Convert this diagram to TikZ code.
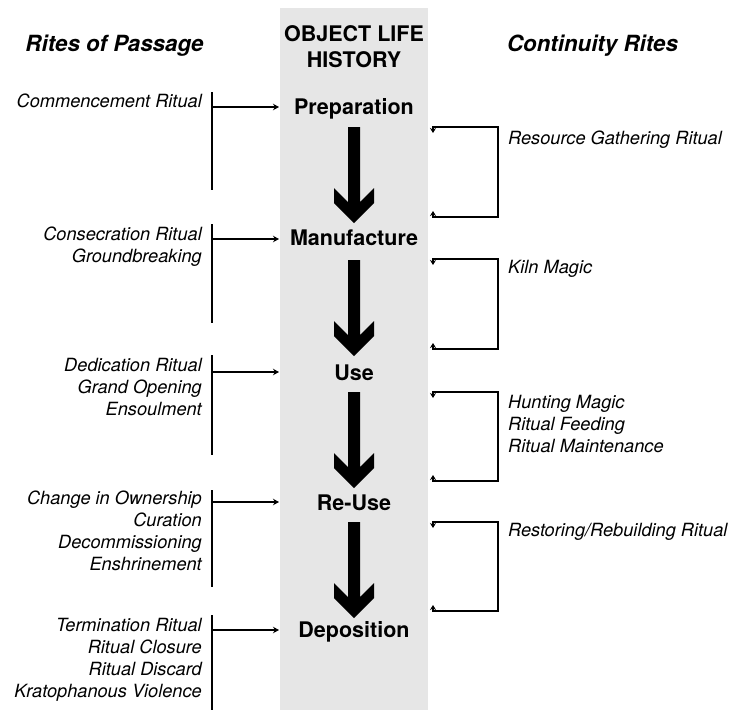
\documentclass[tikz,border=0pt]{standalone}
\usepackage{fontspec}
\setmainfont{TeX Gyre Heros}
\usetikzlibrary{arrows.meta}
\definecolor{band}{HTML}{E6E6E6}
\tikzset{
  titlefont/.style={font=\fontsize{22.3}{25}\selectfont\bfseries\itshape},
  stage/.style={font=\fontsize{21.5}{25}\selectfont\bfseries, inner sep=0pt, anchor=base},
  ltext/.style={font=\fontsize{18.2}{22}\selectfont\itshape, align=right, inner sep=0pt, anchor=north east},
  rtext/.style={font=\fontsize{18.2}{22}\selectfont\itshape, align=left, inner sep=0pt, anchor=north west},
  lbrack/.style={line width=1.6pt},
  larrow/.style={line width=1.5pt, -{Stealth[length=6pt,width=6.5pt]}},
  rbrack/.style={line width=1.4pt, {Stealth[length=5pt,width=6pt]}-{Stealth[length=5pt,width=6pt]}},
  bigarrow/.style={fill=black, draw=none}
}
\newcommand{\bigdown}[2]{%
  \fill[bigarrow] (348,#2) -- (360,#2) -- (360,#2+75) -- (374,#2+61) -- (374,#2+76)
    -- (354,#2+96) -- (334,#2+76) -- (334,#2+61) -- (348,#2+75) -- cycle;}
\begin{document}
\begin{tikzpicture}[x=1pt,y=-1pt]
\useasboundingbox (0,0) rectangle (732,710);
\fill[band] (280,8) rectangle (428,710);

% titles
\node[titlefont, anchor=base, inner sep=0pt] (t1) at (114.5,51) {Rites of Passage};
\node[titlefont, anchor=base, inner sep=0pt] (t3) at (592.5,51) {Continuity Rites};
\node[stage] (t2a) at (354,41) {OBJECT LIFE};
\node[stage] (t2b) at (354,67) {HISTORY};

% stages
\node[stage] (prep) at (354,114) {Preparation};
\node[stage] (manu) at (354,245) {Manufacture};
\node[stage] (use) at (354,380) {Use};
\node[stage] (reuse) at (354,510) {Re-Use};
\node[stage] (depo) at (354,637) {Deposition};

% big arrows
\bigdown{a1}{127}
\bigdown{a2}{260}
\bigdown{a3}{392}
\bigdown{a4}{522}

% left texts
\node[ltext] (l1) at (202,93.5) {Commencement Ritual};
\node[ltext] (l2) at (202,226.5) {Consecration Ritual\\Groundbreaking};
\node[ltext] (l3) at (202,358.5) {Dedication Ritual\\Grand Opening\\Ensoulment};
\node[ltext] (l4) at (202,490.5) {Change in Ownership\\Curation\\Decommissioning\\Enshrinement};
\node[ltext] (l5) at (202,618.5) {Termination Ritual\\Ritual Closure\\Ritual Discard\\Kratophanous Violence};

% left brackets
\foreach \n/\t/\b/\a in {1/92/190/107, 2/224/323/239, 3/355/455/372, 4/490/587/502, 5/615/712/630}{
  \coordinate (lt\n) at (212,\t);
  \coordinate (lb\n) at (212,\b);
  \coordinate (la\n) at (212,\a);
  \coordinate (le\n) at (279,\a);
  \draw[lbrack] (lt\n) -- (lb\n);
  \draw[larrow] (la\n) -- (le\n);
}

% right texts
\node[rtext] (r1) at (508,131) {Resource Gathering Ritual};
\node[rtext] (r2) at (508,260) {Kiln Magic};
\node[rtext] (r3) at (508,395) {Hunting Magic\\Ritual Feeding\\Ritual Maintenance};
\node[rtext] (r4) at (508,523) {Restoring/Rebuilding Ritual};

% right loops
\foreach \n/\t/\b in {1/127/217, 2/259/349, 3/392/481, 4/522/611}{
  \coordinate (rs\n) at (433,\t+6);
  \coordinate (rtl\n) at (433,\t);
  \coordinate (rtr\n) at (498,\t);
  \coordinate (rbr\n) at (498,\b);
  \coordinate (rbl\n) at (433,\b);
  \coordinate (re\n) at (433,\b-6);
  \draw[rbrack] (rs\n) -- (rtl\n) -- (rtr\n) -- (rbr\n) -- (rbl\n) -- (re\n);
}
\end{tikzpicture}
\end{document}
